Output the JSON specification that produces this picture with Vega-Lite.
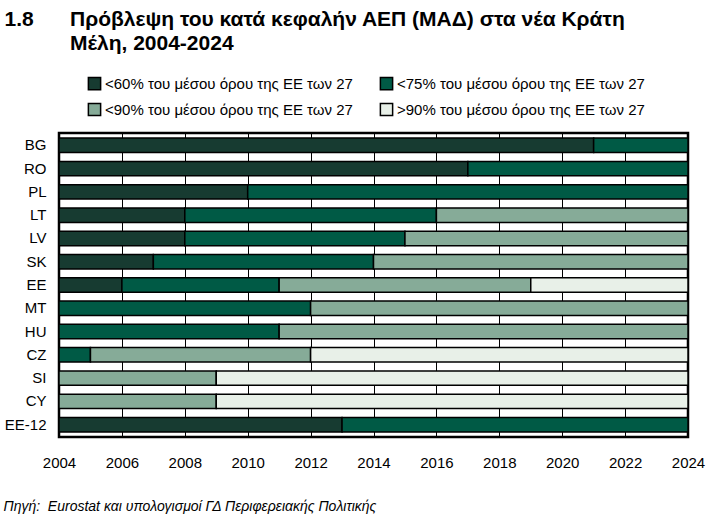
{
  "$schema": "https://vega.github.io/schema/vega-lite/v6.json",
  "width": 629,
  "height": 304,
  "autosize": {"type": "none"},
  "padding": {"left": 59, "top": 133, "right": 26, "bottom": 90},
  "background": "white",
  "title": {
    "text": ["Πρόβλεψη του κατά κεφαλήν ΑΕΠ (ΜΑΔ) στα νέα Κράτη", "Μέλη, 2004-2024"],
    "anchor": "start",
    "frame": "group",
    "dx": 11,
    "dy": 70,
    "offset": 24,
    "font": "Liberation Sans",
    "fontSize": 21,
    "fontWeight": "bold",
    "lineHeight": 24,
    "color": "black"
  },
  "data": {
    "values": [
      {"country": "BG", "start": 2004, "end": 2021, "cat": "<60% του μέσου όρου της ΕΕ των 27"},
      {"country": "BG", "start": 2021, "end": 2024, "cat": "<75% του μέσου όρου της ΕΕ των 27"},
      {"country": "RO", "start": 2004, "end": 2017, "cat": "<60% του μέσου όρου της ΕΕ των 27"},
      {"country": "RO", "start": 2017, "end": 2024, "cat": "<75% του μέσου όρου της ΕΕ των 27"},
      {"country": "PL", "start": 2004, "end": 2010, "cat": "<60% του μέσου όρου της ΕΕ των 27"},
      {"country": "PL", "start": 2010, "end": 2024, "cat": "<75% του μέσου όρου της ΕΕ των 27"},
      {"country": "LT", "start": 2004, "end": 2008, "cat": "<60% του μέσου όρου της ΕΕ των 27"},
      {"country": "LT", "start": 2008, "end": 2016, "cat": "<75% του μέσου όρου της ΕΕ των 27"},
      {"country": "LT", "start": 2016, "end": 2024, "cat": "<90% του μέσου όρου της ΕΕ των 27"},
      {"country": "LV", "start": 2004, "end": 2008, "cat": "<60% του μέσου όρου της ΕΕ των 27"},
      {"country": "LV", "start": 2008, "end": 2015, "cat": "<75% του μέσου όρου της ΕΕ των 27"},
      {"country": "LV", "start": 2015, "end": 2024, "cat": "<90% του μέσου όρου της ΕΕ των 27"},
      {"country": "SK", "start": 2004, "end": 2007, "cat": "<60% του μέσου όρου της ΕΕ των 27"},
      {"country": "SK", "start": 2007, "end": 2014, "cat": "<75% του μέσου όρου της ΕΕ των 27"},
      {"country": "SK", "start": 2014, "end": 2024, "cat": "<90% του μέσου όρου της ΕΕ των 27"},
      {"country": "EE", "start": 2004, "end": 2006, "cat": "<60% του μέσου όρου της ΕΕ των 27"},
      {"country": "EE", "start": 2006, "end": 2011, "cat": "<75% του μέσου όρου της ΕΕ των 27"},
      {"country": "EE", "start": 2011, "end": 2019, "cat": "<90% του μέσου όρου της ΕΕ των 27"},
      {"country": "EE", "start": 2019, "end": 2024, "cat": ">90% του μέσου όρου της ΕΕ των 27"},
      {"country": "MT", "start": 2004, "end": 2012, "cat": "<75% του μέσου όρου της ΕΕ των 27"},
      {"country": "MT", "start": 2012, "end": 2024, "cat": "<90% του μέσου όρου της ΕΕ των 27"},
      {"country": "HU", "start": 2004, "end": 2011, "cat": "<75% του μέσου όρου της ΕΕ των 27"},
      {"country": "HU", "start": 2011, "end": 2024, "cat": "<90% του μέσου όρου της ΕΕ των 27"},
      {"country": "CZ", "start": 2004, "end": 2005, "cat": "<75% του μέσου όρου της ΕΕ των 27"},
      {"country": "CZ", "start": 2005, "end": 2012, "cat": "<90% του μέσου όρου της ΕΕ των 27"},
      {"country": "CZ", "start": 2012, "end": 2024, "cat": ">90% του μέσου όρου της ΕΕ των 27"},
      {"country": "SI", "start": 2004, "end": 2009, "cat": "<90% του μέσου όρου της ΕΕ των 27"},
      {"country": "SI", "start": 2009, "end": 2024, "cat": ">90% του μέσου όρου της ΕΕ των 27"},
      {"country": "CY", "start": 2004, "end": 2009, "cat": "<90% του μέσου όρου της ΕΕ των 27"},
      {"country": "CY", "start": 2009, "end": 2024, "cat": ">90% του μέσου όρου της ΕΕ των 27"},
      {"country": "EE-12", "start": 2004, "end": 2013, "cat": "<60% του μέσου όρου της ΕΕ των 27"},
      {"country": "EE-12", "start": 2013, "end": 2024, "cat": "<75% του μέσου όρου της ΕΕ των 27"}
    ]
  },
  "mark": {"type": "bar", "stroke": "black", "strokeWidth": 1.5, "opacity": 1},
  "encoding": {
    "y": {
      "field": "country",
      "type": "nominal",
      "sort": ["BG", "RO", "PL", "LT", "LV", "SK", "EE", "MT", "HU", "CZ", "SI", "CY", "EE-12"],
      "scale": {"paddingInner": 0.38, "paddingOuter": 0.22},
      "axis": {
        "title": "1.8",
        "titleAngle": 0,
        "titleX": -55,
        "titleY": -108,
        "titleAlign": "left",
        "titleBaseline": "alphabetic",
        "titleFont": "Liberation Sans",
        "titleFontSize": 21,
        "titleFontWeight": "bold",
        "titleColor": "black",
        "domain": false,
        "ticks": false,
        "grid": false,
        "labelPadding": 13,
        "labelFont": "Liberation Sans",
        "labelFontSize": 15,
        "labelColor": "black"
      }
    },
    "x": {
      "field": "start",
      "type": "quantitative",
      "scale": {"domain": [2004, 2024], "nice": false, "zero": false},
      "axis": {
        "values": [2004, 2006, 2008, 2010, 2012, 2014, 2016, 2018, 2020, 2022, 2024],
        "format": "d",
        "title": "Πηγή:\u00a0\u00a0Eurostat και υπολογισμοί ΓΔ Περιφερειακής Πολιτικής",
        "titleX": -56,
        "titleY": 73,
        "titleAlign": "left",
        "titleAnchor": "start",
        "titleBaseline": "alphabetic",
        "titleFont": "Liberation Sans",
        "titleFontSize": 14,
        "titleFontStyle": "italic",
        "titleFontWeight": "normal",
        "titleColor": "black",
        "domain": false,
        "ticks": false,
        "grid": true,
        "gridColor": "black",
        "gridWidth": 1,
        "gridOpacity": 1,
        "labelPadding": 18,
        "labelFont": "Liberation Sans",
        "labelFontSize": 15,
        "labelColor": "black",
        "labelFlush": false,
        "labelOverlap": false
      }
    },
    "x2": {"field": "end"},
    "color": {
      "field": "cat",
      "type": "nominal",
      "scale": {
        "domain": ["<60% του μέσου όρου της ΕΕ των 27", "<75% του μέσου όρου της ΕΕ των 27", "<90% του μέσου όρου της ΕΕ των 27", ">90% του μέσου όρου της ΕΕ των 27"],
        "range": ["#173b31", "#005a45", "#86ab98", "#e8f0e8"]
      },
      "legend": {
        "title": null,
        "orient": "none",
        "direction": "horizontal",
        "legendX": 28,
        "legendY": -57,
        "columns": 2,
        "columnPadding": 24,
        "rowPadding": 7,
        "symbolType": "square",
        "symbolSize": 150,
        "symbolStrokeColor": "black",
        "symbolStrokeWidth": 1.5,
        "symbolOpacity": 1,
        "labelFont": "Liberation Sans",
        "labelFontSize": 15,
        "labelColor": "black",
        "labelLimit": 400,
        "labelOffset": 3
      }
    }
  },
  "config": {
    "view": {"stroke": "black", "strokeWidth": 2.5}
  }
}
